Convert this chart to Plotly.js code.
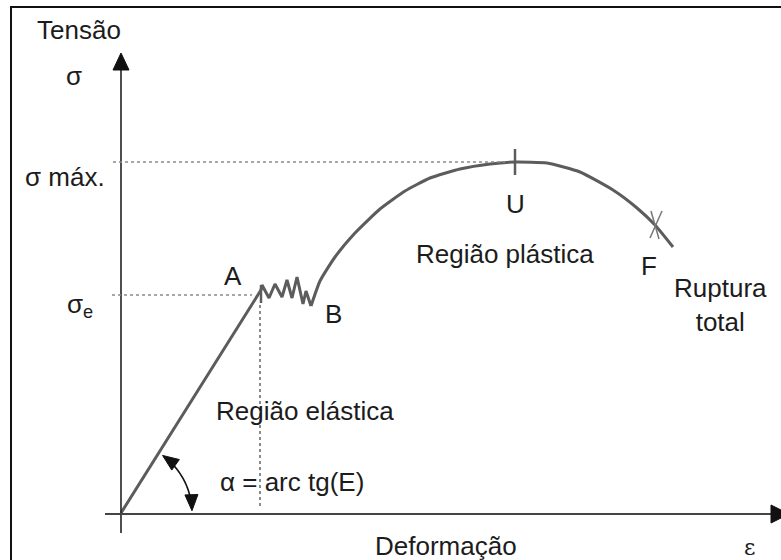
<!DOCTYPE html>
<html>
<head>
<meta charset="utf-8">
<script src="https://cdn.plot.ly/plotly-3.0.1.min.js"></script>
<style>html,body{margin:0;padding:0;background:#fff;}#chart{width:781px;height:560px;}</style>
</head>
<body>
<div id="chart"></div>
<script>
// Strain (ε) and stress (σ) in arbitrary units, origin at the axes crossing
const strainElastic = [0, 1.40, 1.41, 1.48, 1.54, 1.61, 1.66, 1.71, 1.76, 1.82, 1.85, 1.90];
const stressElastic = [0, 2.23, 2.28, 2.15, 2.29, 2.16, 2.33, 2.15, 2.36, 2.09, 2.22, 2.07];
const strainPlastic = [1.90, 1.99, 2.14, 2.34, 2.59, 2.84, 3.09, 3.39, 3.69, 3.94, 4.26, 4.59, 4.92, 5.16, 5.34, 5.52];
const stressPlastic = [2.07, 2.32, 2.56, 2.80, 3.04, 3.22, 3.35, 3.44, 3.49, 3.51, 3.50, 3.41, 3.23, 3.05, 2.88, 2.66];

// Key points
const sigmaE = 2.18, sigmaMax = 3.51;
const epsA = 1.40, epsU = 3.94;
const epsF = 5.34, sigmaF = 2.88;

// Labels
const labelTexts = ["Tensão", "σ", "σ máx.", "σ<sub>e</sub>", "A", "B", "U", "Região plástica", "F",
                    "Ruptura<br>total", "Região elástica", "α = arc tg(E)", "Deformação", "ε"];
const labelX = [-0.42, -0.47, -0.56, -0.41, 1.12, 2.12, 3.94, 3.84, 5.28, 5.99, 1.84, 1.71, 3.25, 6.28];
const labelY = [4.83, 4.37, 3.36, 2.08, 2.37, 1.99, 3.09, 2.59, 2.47, 2.08, 1.02, 0.31, -0.33, -0.34];

const curveColor = '#5c5c5c';
const axisColor = '#222';
const dotColor = '#8a8a8a';
const font = {family: 'Liberation Sans, Arial, sans-serif', size: 26, color: '#1c1c1c'};

const traces = [
  {x: strainElastic, y: stressElastic, mode: 'lines', line: {color: curveColor, width: 3}, hoverinfo: 'skip'},
  {x: strainPlastic, y: stressPlastic, mode: 'lines', line: {color: curveColor, width: 3, shape: 'spline', smoothing: 0.5}, hoverinfo: 'skip'}
];

function tri(tx, ty, bx1, by1, bx2, by2) {
  return {type: 'path', xref: 'x', yref: 'y', path: `M ${tx},${ty} L ${bx1},${by1} L ${bx2},${by2} Z`,
          fillcolor: '#111', line: {color: '#111', width: 1}};
}

// angle arc (decoration)
const R = 0.71, a0 = 53 * Math.PI / 180, a1 = 3 * Math.PI / 180;
let arcPath = '';
const nSeg = 20;
for (let i = 0; i <= nSeg; i++) {
  const a = a0 + (a1 - a0) * i / nSeg;
  arcPath += (i === 0 ? 'M ' : ' L ') + (R * Math.cos(a)).toFixed(4) + ',' + (R * Math.sin(a)).toFixed(4);
}
function arcHead(aTip, dir) {
  const tx = R * Math.cos(aTip), ty = R * Math.sin(aTip);
  const tanx = -Math.sin(aTip) * dir, tany = Math.cos(aTip) * dir;
  const L = 0.16, W = 0.065;
  const bx = tx + tanx * L, by = ty + tany * L;
  const nx = Math.cos(aTip), ny = Math.sin(aTip);
  return tri(tx, ty, bx + nx * W, by + ny * W, bx - nx * W, by - ny * W);
}

const shapes = [
  // frame
  {type: 'rect', xref: 'paper', yref: 'paper', x0: 0.0141, x1: 1.05, y0: -0.05, y1: 0.9875, line: {color: '#111', width: 2}},
  // axes
  {type: 'line', xref: 'x', yref: 'y', x0: 0, x1: 0, y0: -0.20, y1: 4.44, line: {color: axisColor, width: 1.6}},
  tri(0, 4.60, -0.08, 4.43, 0.08, 4.43),
  {type: 'line', xref: 'x', yref: 'y', x0: -0.16, x1: 6.52, y0: -0.01, y1: -0.01, line: {color: '#444', width: 2.2}},
  tri(6.68, -0.01, 6.50, 0.08, 6.50, -0.10),
  // dotted guides
  {type: 'line', xref: 'x', yref: 'y', x0: -0.08, x1: epsU - 0.10, y0: sigmaMax, y1: sigmaMax, line: {color: dotColor, width: 1.5, dash: 'dot'}},
  {type: 'line', xref: 'x', yref: 'y', x0: -0.09, x1: epsA - 0.09, y0: sigmaE, y1: sigmaE, line: {color: dotColor, width: 1.5, dash: 'dot'}},
  {type: 'line', xref: 'x', yref: 'y', x0: epsA - 0.01, x1: epsA - 0.01, y0: 2.08, y1: 0.05, line: {color: '#666', width: 1.5, dash: 'dot'}},
  // A tick
  {type: 'line', xref: 'x', yref: 'y', x0: epsA, x1: epsA, y0: 2.10, y1: 2.28, line: {color: curveColor, width: 2.5}},
  // U tick
  {type: 'line', xref: 'x', yref: 'y', x0: epsU, x1: epsU, y0: sigmaMax - 0.13, y1: sigmaMax + 0.13, line: {color: curveColor, width: 2.5}},
  // F cross
  {type: 'line', xref: 'x', yref: 'y', x0: epsF - 0.04, x1: epsF + 0.04, y0: sigmaF + 0.14, y1: sigmaF - 0.14, line: {color: '#777', width: 1.5}},
  {type: 'line', xref: 'x', yref: 'y', x0: epsF + 0.07, x1: epsF - 0.05, y0: sigmaF + 0.14, y1: sigmaF - 0.13, line: {color: '#777', width: 1.5}},
  // angle arc
  {type: 'path', xref: 'x', yref: 'y', path: arcPath, line: {color: '#111', width: 1.6}},
  arcHead(a0 + 0.02, -1),
  arcHead(a1 - 0.02, 1)
];

const annotations = labelTexts.map((t, i) => ({
  x: labelX[i], y: labelY[i], xref: 'x', yref: 'y', text: t, showarrow: false,
  xanchor: 'center', yanchor: 'middle',
  font: (t === 'ε') ? Object.assign({}, font, {family: 'DejaVu Serif, Liberation Serif, serif', size: 22}) : font
}));

const layout = {
  width: 781, height: 560,
  margin: {l: 0, r: 0, t: 0, b: 0},
  paper_bgcolor: '#fff', plot_bgcolor: '#fff',
  showlegend: false,
  xaxis: {range: [-1.21, 6.60], visible: false, fixedrange: true},
  yaxis: {range: [-0.47, 5.13], visible: false, fixedrange: true},
  shapes: shapes,
  annotations: annotations
};

Plotly.newPlot('chart', traces, layout, {displayModeBar: false, staticPlot: true});
</script>
</body>
</html>
